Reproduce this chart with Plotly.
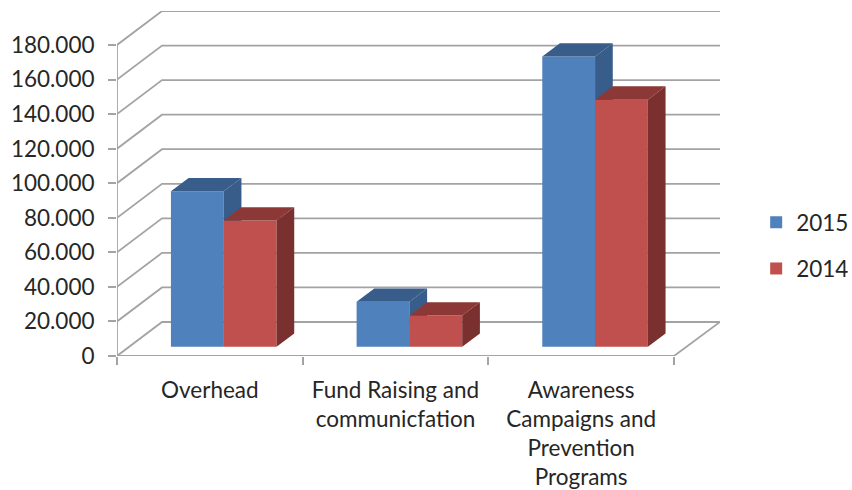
import plotly.graph_objects as go

categories = ["Overhead", "Fund Raising and<br>communicfation", "Awareness<br>Campaigns and<br>Prevention<br>Programs"]
values_2015 = [90, 26, 168]
values_2014 = [73, 18, 143]
y_ticks = [0, 20, 40, 60, 80, 100, 120, 140, 160, 180]
y_tick_labels = ["0", "20.000", "40.000", "60.000", "80.000", "100.000", "120.000", "140.000", "160.000", "180.000"]

W, H = 852, 490
L, R, T, B = 117, 720, 11, 356
px_x = (674 - L) / 3          # pixels per category
px_y = (B - 45) / 180         # pixels per value unit
x_max = (R - L) / px_x
y_max = (B - T) / px_y
wall_dx, wall_dy = 45 / px_x, 34 / px_y
bar_dx, bar_dy = 17.7 / px_x, 13.3 / px_y
bar_w = 52.8 / px_x
shift_x, shift_y = 13.9 / px_x, 9.3 / px_y
GRID = "#a3a3a3"

fig = go.Figure()

# wall gridlines, floor and axis edges
gx, gy = [], []
for v in y_ticks:
    gx += [0, wall_dx, x_max, None]
    gy += [v, v + wall_dy, v + wall_dy, None]
gx += [0, 3, x_max, None]
gy += [0, 0, wall_dy, None]
fig.add_trace(go.Scatter(x=gx, y=gy, mode="lines", line=dict(color=GRID, width=1.8),
                         showlegend=False, hoverinfo="skip", cliponaxis=False))


def faces(values, left):
    tx, ty, sx, sy = [], [], [], []
    for i, v in enumerate(values):
        x0, x1 = i + left, i + left + bar_w
        tx += [x0, x1, x1 + bar_dx, x0 + bar_dx, x0, None]
        ty += [v, v, v + bar_dy, v + bar_dy, v, None]
        sx += [x1, x1 + bar_dx, x1 + bar_dx, x1, x1, None]
        sy += [0, bar_dy, v + bar_dy, v, 0, None]
    return tx, ty, sx, sy


def add_series(name, values, left, front, top, side, ax):
    xa, ya = "x" + ax, "y" + ax
    tx, ty, sx, sy = faces(values, left)
    for px_, py_, col in ((tx, ty, top), (sx, sy, side)):
        fig.add_trace(go.Scatter(x=px_, y=py_, mode="lines", fill="toself", fillcolor=col,
                                 line=dict(width=0), showlegend=False, hoverinfo="skip",
                                 xaxis=xa, yaxis=ya))
    fig.add_trace(go.Bar(x=list(range(3)), y=values, name=name, width=bar_w, offset=left,
                         legendgroup=name,
                         marker=dict(color=front, line=dict(width=0)),
                         xaxis=xa, yaxis=ya))


add_series("2015", values_2015, -bar_w, "#4f81bd", "#385d8a", "#385d8a", "2")
add_series("2014", values_2014, 0, "#c0504d", "#8c3836", "#7a302e", "3")

over_x = dict(range=[-0.5 - shift_x, x_max - 0.5 - shift_x], visible=False, overlaying="x")
over_y = dict(range=[-shift_y, y_max - shift_y], visible=False, overlaying="y")

fig.update_layout(
    width=W, height=H, autosize=False, paper_bgcolor="white", plot_bgcolor="white",
    margin=dict(l=L, r=W - R, t=T, b=H - B, pad=0, autoexpand=False),
    font=dict(family="Lato", size=22.5, color="#262626"),
    barmode="overlay", showlegend=True,
    legend=dict(x=1.06, y=0.449, yanchor="top", traceorder="grouped",
                tracegroupgap=14, bgcolor="rgba(0,0,0,0)", itemwidth=30,
                font=dict(size=22.5)),
    xaxis=dict(range=[0, x_max], showgrid=False, zeroline=False, showline=False,
               tickvals=[0.5, 1.5, 2.5], ticktext=categories, ticks="", tickangle=0,
               ticklabelstandoff=18,
               minor=dict(tickvals=[0, 1, 2, 3], ticks="outside", ticklen=8, tickcolor=GRID, tickwidth=1.8)),
    yaxis=dict(range=[0, y_max], showgrid=False, zeroline=False, showline=False,
               tickvals=y_ticks, ticktext=y_tick_labels, ticks="outside", ticklen=8,
               ticklabelstandoff=9, tickcolor=GRID, tickwidth=1.8),
    xaxis2=over_x, yaxis2=over_y, xaxis3=over_x, yaxis3=over_y,
    shapes=[dict(type="line", xref="x", yref="y", x0=0, x1=0, y0=0, y1=180,
                 line=dict(color=GRID, width=1.8), layer="below")],
)
fig.write_html("out.html", config=dict(displayModeBar=False),
               post_script="document.body.style.margin='0';document.documentElement.style.overflow='hidden';")
